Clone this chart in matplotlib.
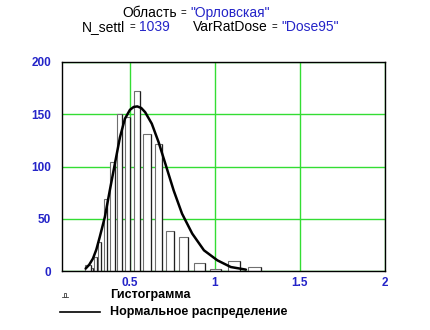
import matplotlib
matplotlib.use("Agg")
import matplotlib.pyplot as plt
from matplotlib.patches import Rectangle
from matplotlib.lines import Line2D

# histogram bars: left edge, width, count
bar_left = [0.234, 0.270, 0.291, 0.312, 0.346, 0.385, 0.425, 0.470, 0.524,
            0.579, 0.648, 0.713, 0.790, 0.875, 0.970, 1.074, 1.192]
bar_width = [0.038, 0.013, 0.015, 0.020, 0.019, 0.026, 0.026, 0.030, 0.035,
             0.044, 0.040, 0.044, 0.050, 0.064, 0.064, 0.075, 0.079]
counts = [6, 3, 13, 28, 69, 104, 150, 147, 172, 131, 122, 38, 33, 8, 2, 10, 4]

# fitted curve, points
curve_x = [0.239, 0.260, 0.282, 0.302, 0.322, 0.352, 0.381, 0.411, 0.441, 0.470,
           0.500, 0.522, 0.543, 0.566, 0.589, 0.628, 0.668, 0.708, 0.757, 0.806,
           0.866, 0.935, 1.014, 1.093, 1.182]
curve_y = [2.3, 6.0, 11.9, 20.5, 32.5, 51.6, 77, 102.6, 128, 145.7,
           154.3, 157.0, 157.5, 156.0, 152, 141, 123.4, 102.6, 77, 54.9,
           35.8, 19.8, 10.2, 3.8, 1.3]

xticks = [0.5, 1, 1.5, 2]
xtick_labels = ['0.5', '1', '1.5', '2']
yticks = [0, 50, 100, 150, 200]

region = 'Область'
region_val = '"Орловская"'
n_name, n_val = 'N_settl', '1039'
var_name, var_val = 'VarRatDose', '"Dose95"'

blue = '#2424c8'
green = '#33dd33'
plt.rcParams['font.family'] = ['Liberation Sans', 'DejaVu Sans']

fig = plt.figure(figsize=(4.31, 3.30), dpi=100)
ax = fig.add_axes([62 / 431, 1 - 271 / 330, (385 - 62) / 431, (271 - 62) / 330])

ax.bar(bar_left, counts, width=bar_width, align='edge', facecolor='white',
       edgecolor='#707070', linewidth=0.8, zorder=2)
right_edges = [l + w for l, w in zip(bar_left, bar_width)]
ax.vlines(right_edges, 0, counts, color='#202020', linewidth=0.9, zorder=3)
ax.plot(curve_x, curve_y, color='black', linewidth=1.8, zorder=4,
        solid_joinstyle='round', solid_capstyle='round')

ax.set_xlim(0.1, 2.0)
ax.set_ylim(0, 200)
ax.set_xticks(xticks)
ax.set_xticklabels(xtick_labels)
ax.set_yticks(yticks)
ax.grid(True, color=green, linewidth=1.0, zorder=0)
ax.set_axisbelow(True)
ax.tick_params(length=0, labelsize=8.5, labelcolor=blue)
ax.tick_params(axis='x', pad=4)
ax.tick_params(axis='y', pad=8)
for lab in ax.get_xticklabels() + ax.get_yticklabels():
    lab.set_fontweight('bold')
for s in ax.spines.values():
    s.set_color('black')
    s.set_linewidth(1.0)

# title lines with mixed colours
fig.canvas.draw()
r = fig.canvas.get_renderer()


def put_line(parts, x0, y):
    x = x0
    for txt, col, size in parts:
        t = fig.text(x / 431, 1 - y / 330, txt, color=col, fontsize=size,
                     va='center', ha='left')
        bb = t.get_window_extent(renderer=r)
        x += bb.width + 4


put_line([(region, 'black', 10), ('=', 'black', 7), (region_val, blue, 10)], 122, 13)
put_line([(n_name, 'black', 10), ('=', 'black', 7), (n_val, blue, 10)], 82, 27)
put_line([(var_name, 'black', 10), ('=', 'black', 7), (var_val, blue, 10)], 193, 27)

# legend below the plot
fig.add_artist(Rectangle((64 / 431, 1 - 297 / 330), 2 / 431, 4 / 330,
                         facecolor='white', edgecolor='#404040', linewidth=0.6,
                         transform=fig.transFigure))
fig.add_artist(Line2D([62 / 431, 68 / 431], [1 - 297 / 330] * 2, color='#404040',
                      linewidth=0.6, transform=fig.transFigure))
fig.text(110 / 431, 1 - 295 / 330, 'Гистограмма', fontsize=9,
         fontweight='bold', va='center', ha='left')
fig.add_artist(Line2D([60 / 431, 100 / 431], [1 - 312 / 330] * 2, color='black',
                      linewidth=1.2, transform=fig.transFigure))
fig.text(110 / 431, 1 - 312 / 330, 'Нормальное распределение', fontsize=9,
         fontweight='bold', va='center', ha='left')

fig.savefig('out.png', dpi=100)
